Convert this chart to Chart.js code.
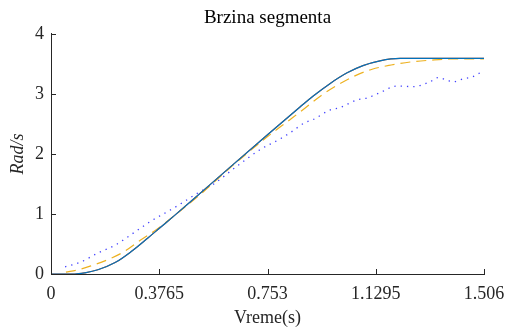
<!DOCTYPE html>
<html>
<head>
<meta charset="utf-8">
<script src="https://cdn.jsdelivr.net/npm/chart.js@4.4.1/dist/chart.umd.min.js"></script>
<style>
  html, body { margin: 0; padding: 0; background: #ffffff; }
  #wrap { width: 508px; height: 329px; }
</style>
</head>
<body>
<div id="wrap"><canvas id="c" width="508" height="329"></canvas></div>
<script>
// ---- data ----
const titleText = 'Brzina segmenta';
const xTitle = 'Vreme(s)';
const yTitle = 'Rad/s';
const xTickValues = [0, 0.3765, 0.753, 1.1295, 1.506];
const xTickLabels = ['0', '0.3765', '0.753', '1.1295', '1.506'];
const yTickValues = [0, 1, 2, 3, 4];
const yTickLabels = ['0', '1', '2', '3', '4'];

const solidT = [0, 0.083, 0.118, 0.163, 0.223, 0.278, 0.337, 0.379, 0.431, 0.494, 0.623, 0.751, 0.866, 0.911, 0.970, 1.030, 1.085, 1.144, 1.214, 1.353, 1.506];
const blueV  = [0, 0, 0.02, 0.07, 0.19, 0.37, 0.60, 0.77, 0.98, 1.24, 1.78, 2.31, 2.78, 2.96, 3.17, 3.35, 3.47, 3.55, 3.59, 3.59, 3.59];
const redV   = [0, 0, 0.02, 0.07, 0.19, 0.37, 0.60, 0.77, 0.98, 1.24, 1.78, 2.31, 2.78, 2.96, 3.17, 3.35, 3.47, 3.55, 3.59, 3.59, 3.59];

const dashT = [0.052, 0.094, 0.136, 0.198, 0.257, 0.313, 0.372, 0.431, 0.518, 0.623, 0.751, 0.831, 0.883, 0.939, 0.998, 1.057, 1.117, 1.183, 1.249, 1.318, 1.388, 1.506];
const dashV = [0.03, 0.07, 0.13, 0.24, 0.38, 0.57, 0.76, 0.98, 1.32, 1.77, 2.28, 2.57, 2.76, 2.97, 3.15, 3.30, 3.41, 3.48, 3.53, 3.56, 3.58, 3.58];

const dotT = [0.049, 0.104, 0.163, 0.223, 0.292, 0.344, 0.431, 0.518, 0.560, 0.640, 0.727, 0.797, 0.831, 0.883, 0.911, 0.970, 1.005, 1.064, 1.099, 1.144, 1.203, 1.259, 1.318, 1.346, 1.377, 1.398, 1.433, 1.464, 1.492];
const dotV = [0.12, 0.20, 0.35, 0.48, 0.70, 0.87, 1.11, 1.37, 1.48, 1.77, 2.07, 2.25, 2.35, 2.52, 2.57, 2.73, 2.77, 2.90, 2.93, 3.02, 3.13, 3.12, 3.20, 3.27, 3.23, 3.20, 3.25, 3.28, 3.35];

const pts = (xs, ys) => xs.map((x, i) => ({ x: x, y: ys[i] }));

const axisColor = '#262626';

const inwardTicks = {
  id: 'inwardTicks',
  afterDatasetsDraw(chart) {
    const ctx = chart.ctx;
    const xs = chart.scales.x, ys = chart.scales.y;
    const a = chart.chartArea;
    ctx.save();
    ctx.strokeStyle = axisColor;
    ctx.lineWidth = 1;
    ctx.beginPath();
    xTickValues.forEach(v => {
      const px = Math.round(xs.getPixelForValue(v)) + 0.5;
      ctx.moveTo(px, a.bottom);
      ctx.lineTo(px, a.bottom - 5);
    });
    yTickValues.forEach(v => {
      const py = Math.round(ys.getPixelForValue(v)) + 0.5;
      ctx.moveTo(a.left, py);
      ctx.lineTo(a.left + 5, py);
    });
    ctx.stroke();
    ctx.restore();
  }
};

const serif = "'Liberation Serif', 'Times New Roman', serif";

new Chart(document.getElementById('c'), {
  type: 'line',
  data: {
    datasets: [
      { label: 'blue', data: pts(solidT, blueV), borderColor: '#0072BD', borderWidth: 1.2, pointRadius: 0, cubicInterpolationMode: 'monotone', order: 1 },
      { label: 'red', data: pts(solidT, redV), borderColor: '#D95319', borderWidth: 1.2, pointRadius: 0, cubicInterpolationMode: 'monotone', order: 2 },
      { label: 'dashed', data: pts(dashT, dashV), borderColor: '#EDB120', borderWidth: 1.2, borderDash: [10, 6], pointRadius: 0, cubicInterpolationMode: 'monotone', order: 3 },
      { label: 'dotted', data: pts(dotT, dotV), borderColor: 'rgba(0,0,255,0.75)', borderWidth: 1.3, borderDash: [1.3, 5], pointRadius: 0, cubicInterpolationMode: 'monotone', order: 4 }
    ]
  },
  options: {
    responsive: false,
    animation: false,
    devicePixelRatio: 1,
    layout: { padding: { left: 0, right: 24, top: 0, bottom: 0 } },
    plugins: {
      legend: { display: false },
      tooltip: { enabled: false },
      title: {
        display: true,
        text: titleText,
        color: '#000000',
        fullSize: false,
        font: { family: serif, size: 19, weight: 'normal' },
        padding: { top: 7, bottom: 4 }
      }
    },
    scales: {
      x: {
        type: 'linear',
        min: 0,
        max: 1.506,
        afterBuildTicks: s => { s.ticks = xTickValues.map(v => ({ value: v })); },
        afterFit: s => { s.height = 55; s.paddingRight = 0; s.paddingLeft = 0; },
        ticks: {
          autoSkip: false,
          maxRotation: 0,
          padding: 9,
          color: '#262626',
          font: { family: serif, size: 18 },
          callback: (v, i) => xTickLabels[i]
        },
        grid: { display: true, drawOnChartArea: false, drawTicks: false },
        border: { display: true, color: axisColor, width: 1 },
        title: {
          display: true,
          text: xTitle,
          color: '#262626',
          font: { family: serif, size: 18 },
          padding: { top: 0, bottom: 0 }
        }
      },
      y: {
        type: 'linear',
        min: 0,
        max: 4,
        afterBuildTicks: s => { s.ticks = yTickValues.map(v => ({ value: v })); },
        afterFit: s => { s.width = 51; s.paddingTop = 0; s.paddingBottom = 0; },
        ticks: {
          padding: 7,
          color: '#262626',
          font: { family: serif, size: 18 },
          callback: (v, i) => yTickLabels[i]
        },
        grid: { display: true, drawOnChartArea: false, drawTicks: false },
        border: { display: true, color: axisColor, width: 1 },
        title: {
          display: true,
          text: yTitle,
          color: '#262626',
          font: { family: serif, size: 18, style: 'italic' },
          padding: { top: 7, bottom: 0 }
        }
      }
    }
  },
  plugins: [inwardTicks]
});
</script>
</body>
</html>
